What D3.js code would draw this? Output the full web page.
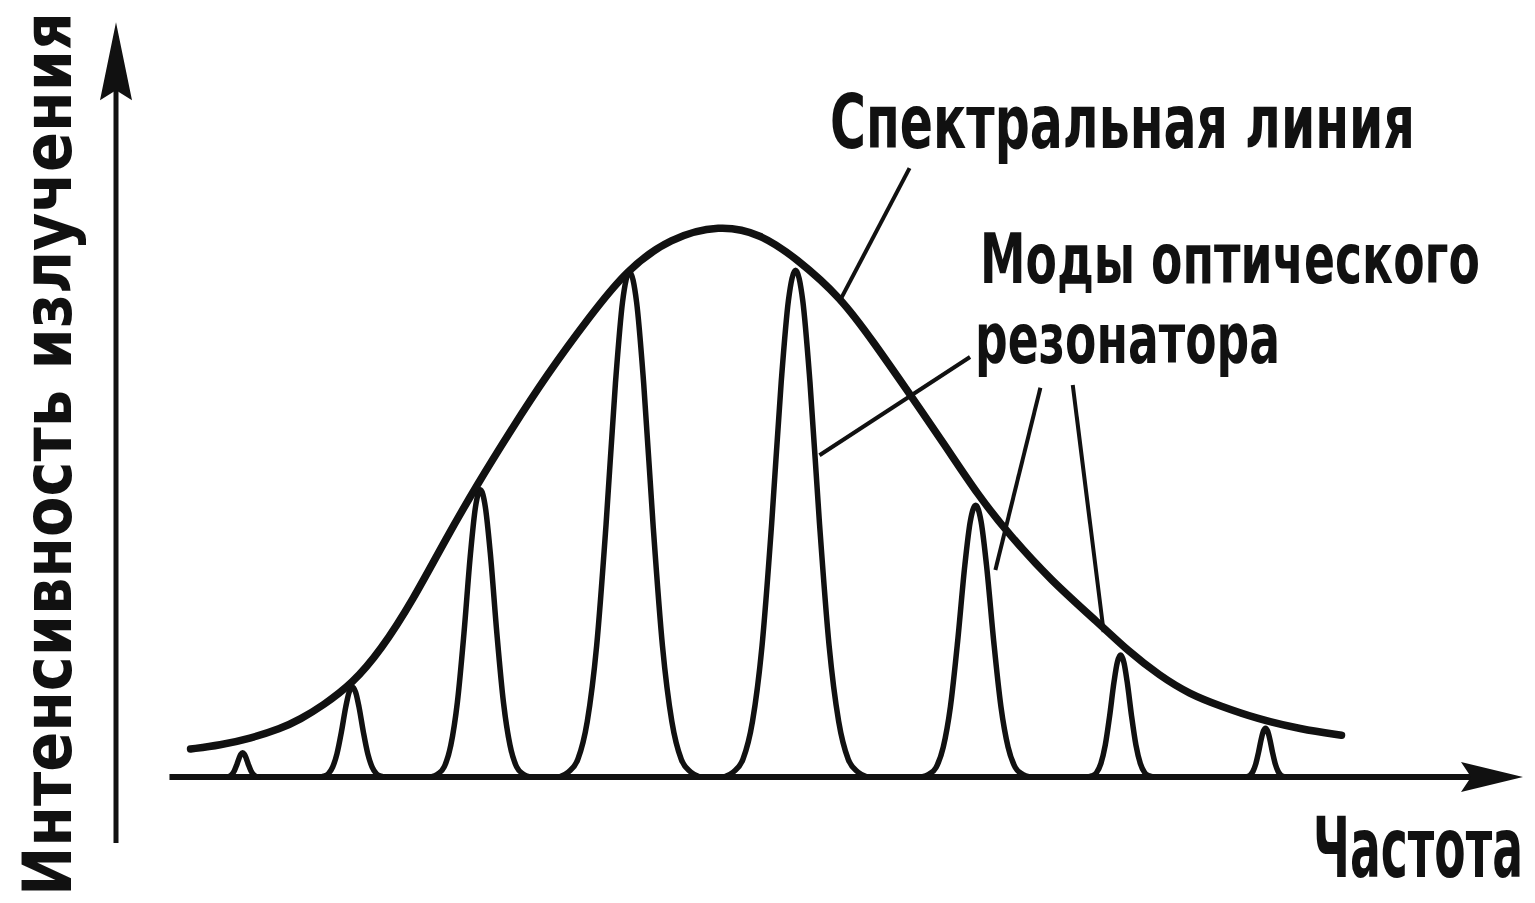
<!DOCTYPE html>
<html>
<head>
<meta charset="utf-8">
<script src="https://cdn.jsdelivr.net/npm/d3@7"></script>
<style>
  body { margin: 0; background: #fff; }
  text { font-family: "Liberation Sans Narrow", "DejaVu Sans Condensed", "DejaVu Sans", sans-serif; font-weight: bold; fill: #111; }
</style>
</head>
<body>
<div id="chart"></div>
<script>
const width = 1535;
const height = 903;

// spectral line (envelope), frequency vs intensity
const envelopeFreq = [5.3, 7.4, 9.5, 11.7, 13.1, 14.7, 16.8, 18.8, 21.1, 23.4, 25.7, 28.0, 30.6, 33.7, 36.3, 39.4, 42.9,
                      45.8, 48.4, 51.5, 53.9, 56.4, 58.9, 61.3, 63.5, 66.4, 69.9, 71.9, 74.2, 76.3, 78.5, 81.1, 84.2, 87.1];
const envelopeInt  = [5.1, 5.8, 7.0, 8.8, 10.5, 13.0, 17.0, 23.0, 32.2, 43.2, 53.4, 62.9, 73.2, 84.0, 92.4, 98.2, 100.6,
                      99.0, 94.4, 87.4, 79.0, 69.8, 60.5, 51.2, 44.1, 35.9, 27.9, 23.0, 18.4, 15.1, 12.9, 10.6, 8.7, 7.6];

// resonator modes
const modeFreq      = [9.0, 16.8, 25.9, 36.5, 48.3, 61.1, 71.4, 81.7];
const modeInt       = [4.4, 16.4, 52.3, 92.0, 92.3, 49.5, 22.2, 8.9];
const modeHalfWidth = [0.42, 0.78, 1.17, 1.67, 1.7, 1.28, 0.78, 0.5];

// shape of one mode: offset in half-widths, fraction of the peak
const profileOffset = [0, 0.3, 0.6, 1.0, 1.4, 1.8, 2.2, 2.6, 3.0];
const profileLevel  = [1, 0.94, 0.78, 0.5, 0.26, 0.11, 0.035, 0.01, 0];

const labels = ["Спектральная линия", "Моды оптического", "резонатора"];
const xTitle = "Частота";
const yTitle = "Интенсивность излучения";

let svg = d3.select("#chart")
    .append("svg")
    .attr("width", width)
    .attr("height", height);

svg.append("rect").attr("width", width).attr("height", height).attr("fill", "#fff");

let xScale = d3.scaleLinear().domain([0, 100]).range([116, 1523]);
let yScale = d3.scaleLinear().domain([0, 100]).range([777, 228]);

// axes
let x0 = xScale(0), y0 = yScale(0);
let yTop = yScale(137.5), yBottom = yScale(-12);
let xLeft = xScale(3.8), xRight = xScale(100);

svg.append("line")
    .attr("x1", x0).attr("y1", yBottom)
    .attr("x2", x0).attr("y2", yTop + 40)
    .attr("stroke", "#111").attr("stroke-width", 5);
svg.append("path")
    .attr("d", `M${x0},${yTop} L${x0 - 16},${yTop + 78} L${x0},${yTop + 68} L${x0 + 16},${yTop + 78} Z`)
    .attr("fill", "#111");

svg.append("line")
    .attr("x1", xLeft).attr("y1", y0)
    .attr("x2", xRight - 40).attr("y2", y0)
    .attr("stroke", "#111").attr("stroke-width", 6);
svg.append("path")
    .attr("d", `M${xRight},${y0} L${xRight - 62},${y0 - 15} L${xRight - 52},${y0} L${xRight - 62},${y0 + 15} Z`)
    .attr("fill", "#111");

// modes
let line = d3.line()
    .x(d => xScale(d[0]))
    .y(d => yScale(d[1]))
    .curve(d3.curveMonotoneX);

modeFreq.forEach((f, i) => {
    let pts = [];
    for (let k = profileOffset.length - 1; k > 0; k--) {
        pts.push([f - profileOffset[k] * modeHalfWidth[i], profileLevel[k] * modeInt[i]]);
    }
    for (let k = 0; k < profileOffset.length; k++) {
        pts.push([f + profileOffset[k] * modeHalfWidth[i], profileLevel[k] * modeInt[i]]);
    }
    svg.append("path")
        .attr("d", line(pts))
        .attr("fill", "none")
        .attr("stroke", "#111")
        .attr("stroke-width", 5.5)
        .attr("stroke-linejoin", "round");
});

// spectral line envelope
svg.append("path")
    .attr("d", d3.line()
        .x((d, i) => xScale(envelopeFreq[i]))
        .y(d => yScale(d))
        .curve(d3.curveBasis)(envelopeInt))
    .attr("fill", "none")
    .attr("stroke", "#111")
    .attr("stroke-width", 7.5)
    .attr("stroke-linecap", "round");

// leader lines
let leaders = [
    [56.4, 110.9, 51.5, 87.0],
    [60.7, 76.5, 50.0, 58.6],
    [65.7, 70.9, 62.5, 37.7],
    [68.0, 71.4, 70.2, 26.4]
];
svg.selectAll(".leader")
    .data(leaders)
    .enter()
    .append("line")
    .attr("class", "leader")
    .attr("x1", d => xScale(d[0])).attr("y1", d => yScale(d[1]))
    .attr("x2", d => xScale(d[2])).attr("y2", d => yScale(d[3]))
    .attr("stroke", "#111")
    .attr("stroke-width", 4);

// texts: pick the size that gives the wanted width, then stretch vertically
function fitText(str, x, y, w, size, rotate) {
    let t = svg.append("text").attr("font-size", 100).text(str);
    let natural = t.node().getComputedTextLength();
    let fs = 100 * w / natural;
    t.attr("font-size", fs)
        .attr("transform", `translate(${x},${y})${rotate ? " rotate(-90)" : ""} scale(1,${size / fs})`);
}

fitText(labels[0], 830, 148, 585, 74);
fitText(labels[1], 980, 283, 500, 70);
fitText(labels[2], 975, 363, 305, 70);
fitText(xTitle, 1313, 877, 210, 84);
fitText(yTitle, 71, 896, 884, 68, true);
</script>
</body>
</html>
